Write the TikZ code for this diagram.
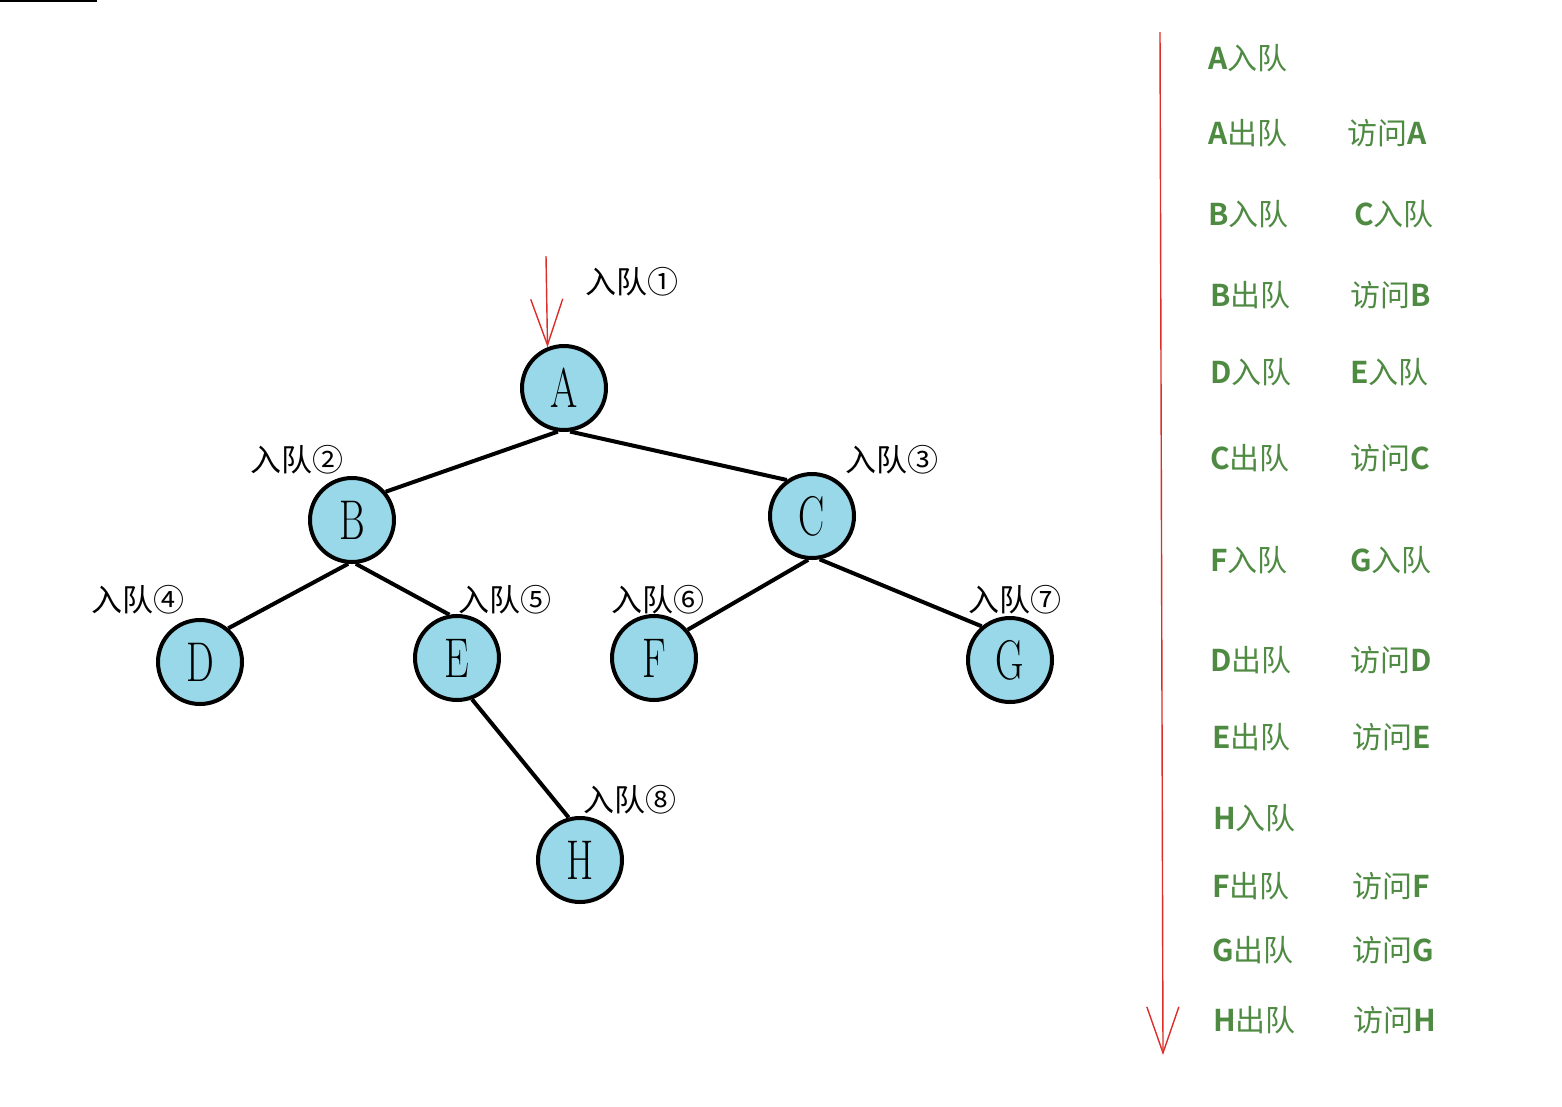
\documentclass[tikz,border=0pt]{standalone}
\usepackage{fontspec}
\usepackage{graphicx}
\usepackage{tikz}
\usetikzlibrary{positioning,arrows.meta}
\newfontfamily\cjk{Noto Sans CJK SC}[BoldFont={Noto Sans CJK SC Bold}]
\definecolor{nodeblue}{RGB}{152,216,232}
\definecolor{opgreen}{RGB}{78,138,66}
\definecolor{myred}{RGB}{220,45,40}
\newcommand{\treelab}[1]{\scalebox{0.7}[1]{#1}}

\begin{document}
\begin{tikzpicture}[
  x = 1pt,
  y = -1pt,
  vertex/.style = {
    draw,
    circle,
    fill = nodeblue,
    line width = 4pt,
    inner sep = 0pt,
    minimum size = 84pt,
    font = \fontsize{56}{60}\selectfont,
  },
  link/.style = {
    draw,
    line width = 4pt,
  },
  qlabel/.style = {
    font = \cjk\fontsize{31}{32}\selectfont,
    inner sep = 0pt,
  },
  oplabel/.style = {
    font = \cjk\fontsize{30}{32}\selectfont,
    text = opgreen,
    anchor = west,
    inner sep = 0pt,
  },
  redarrow/.style = {
    draw = myred,
    line width = 1.4pt,
    -{Straight Barb[length=46pt,width=32pt,line width=1.4pt]},
  },
]

  \useasboundingbox (0,0) rectangle (1562,1106);
  \draw[line width=2pt] (0,1) -- (97,1);

  % tree
  \node[vertex] (A) at (564,388) {\treelab{A}};
  \node[vertex] (B) at (352,520) {\treelab{B}};
  \node[vertex] (C) at (812,516) {\treelab{C}};
  \node[vertex] (D) at (200,662) {\treelab{D}};
  \node[vertex] (E) at (457,658) {\treelab{E}};
  \node[vertex] (F) at (654,658) {\treelab{F}};
  \node[vertex] (G) at (1010,660) {\treelab{G}};
  \node[vertex] (H) at (580,860) {\treelab{H}};

  \path[link] (A.262) -- (B.40);
  \path[link] (A.278) -- (C.125);
  \path[link] (B.265) -- (D.50);
  \path[link] (B.275) -- (E.100);
  \path[link] (C.265) -- (F.40);
  \path[link] (C.280) -- (G.130);
  \path[link] (E.290) -- (H.105);

  % enqueue order
  \node[qlabel] (l1) at (632,282) {入队①};
  \node[qlabel] (l2) at (297,460) {入队②};
  \node[qlabel] (l3) at (892,460) {入队③};
  \node[qlabel] (l4) at (138,600) {入队④};
  \node[qlabel] (l5) at (505,600) {入队⑤};
  \node[qlabel] (l6) at (658,600) {入队⑥};
  \node[qlabel] (l7) at (1015,600) {入队⑦};
  \node[qlabel] (l8) at (630,800) {入队⑧};

  \coordinate (in) at (546,256);
  \path[redarrow] (in) -- (A.112);

  % time line
  \coordinate (t0) at (1160,32);
  \coordinate (t1) at (1163,1055);
  \path[redarrow] (t0) -- (t1);

  % queue operations
  \node[oplabel] (q1) at (1208,58) {\textbf{A}入队};
  \node[oplabel] (q2) at (1208,133) {\textbf{A}出队};
  \node[oplabel] (v2) at (1347,133) {访问\textbf{A}};
  \node[oplabel] (q3) at (1208,214) {\textbf{B}入队};
  \node[oplabel] (v3) at (1354,214) {\textbf{C}入队};
  \node[oplabel] (q4) at (1210,295) {\textbf{B}出队};
  \node[oplabel] (v4) at (1350,295) {访问\textbf{B}};
  \node[oplabel] (q5) at (1210,372) {\textbf{D}入队};
  \node[oplabel] (v5) at (1350,372) {\textbf{E}入队};
  \node[oplabel] (q6) at (1210,458) {\textbf{C}出队};
  \node[oplabel] (v6) at (1350,458) {访问\textbf{C}};
  \node[oplabel] (q7) at (1210,560) {\textbf{F}入队};
  \node[oplabel] (v7) at (1350,560) {\textbf{G}入队};
  \node[oplabel] (q8) at (1210,660) {\textbf{D}出队};
  \node[oplabel] (v8) at (1350,660) {访问\textbf{D}};
  \node[oplabel] (q9) at (1212,737) {\textbf{E}出队};
  \node[oplabel] (v9) at (1352,737) {访问\textbf{E}};
  \node[oplabel] (q10) at (1213,818) {\textbf{H}入队};
  \node[oplabel] (q11) at (1212,886) {\textbf{F}出队};
  \node[oplabel] (v11) at (1352,886) {访问\textbf{F}};
  \node[oplabel] (q12) at (1212,950) {\textbf{G}出队};
  \node[oplabel] (v12) at (1352,950) {访问\textbf{G}};
  \node[oplabel] (q13) at (1213,1020) {\textbf{H}出队};
  \node[oplabel] (v13) at (1353,1020) {访问\textbf{H}};

\end{tikzpicture}
\end{document}
